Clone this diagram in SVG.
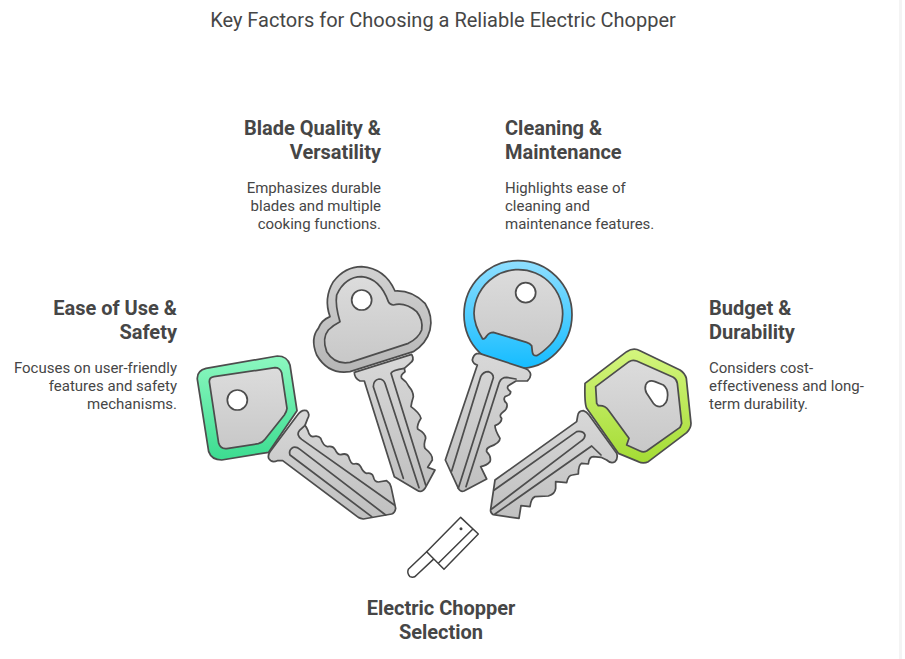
<svg xmlns="http://www.w3.org/2000/svg" width="905" height="659" viewBox="0 0 905 659">
<style>
text{font-family:Roboto,"Liberation Sans",sans-serif;fill:#464646}
.t{font-size:20px}
.h{font-size:20px;font-weight:700}
.d{font-size:15px}
.e{text-anchor:end}
.m{text-anchor:middle}
.s{stroke:#4d4d4d;stroke-width:5.2;stroke-linejoin:round;stroke-linecap:round}
.k{fill:url(#blade)}
.i{fill:url(#inner)}
.g{fill:none}
.o{fill:#fff}
.c{fill:none;stroke:#404040;stroke-width:4.5;stroke-linejoin:round;stroke-linecap:round}
</style>
<defs>
<linearGradient id="blade" x1="0" y1="0" x2="0" y2="1"><stop offset="0" stop-color="#d8d8d8"/><stop offset="1" stop-color="#c0c0c0"/></linearGradient>
<linearGradient id="inner" x1="0" y1="0" x2="0" y2="1"><stop offset="0" stop-color="#dcdcdc"/><stop offset="1" stop-color="#c8c8c8"/></linearGradient>
<linearGradient id="head2" x1="0" y1="0" x2="0" y2="1"><stop offset="0" stop-color="#d2d2d2"/><stop offset="1" stop-color="#b6b6b6"/></linearGradient>
<linearGradient id="green" x1="0" y1="0" x2="0" y2="1"><stop offset="0" stop-color="#8cf8c0"/><stop offset="1" stop-color="#3cdc90"/></linearGradient>
<linearGradient id="blue" x1="0" y1="0" x2="0" y2="1"><stop offset="0" stop-color="#8fdfff"/><stop offset="1" stop-color="#14bcff"/></linearGradient>
<linearGradient id="lime" x1="0" y1="0" x2="0" y2="1"><stop offset="0" stop-color="#d4f57e"/><stop offset="1" stop-color="#a4dc34"/></linearGradient>
</defs>
<rect width="905" height="659" fill="#fff"/>
<rect x="899" y="0" width="3" height="659" fill="#f4f4f4"/>
<text class="t m" x="443" y="27">Key Factors for Choosing a Reliable Electric Chopper</text>

<g id="key-ease" transform="translate(190 340) scale(.33333)">
<path class="s" fill="url(#green)" d="M22 118Q20 92 48 85L262 48Q292 48 300 75L321 212L236 337L95 360Q65 360 56 335Z"/>
<path class="s i" d="M58 125Q58 112 72 110L255 83Q270 83 275 98L291 205Q290 215 283 225L225 298Q218 308 205 311L110 326Q92 328 86 310Z"/>
<circle class="s o" cx="142" cy="180" r="30"/>
<path class="s k" d="M322 226Q335 207 350 212Q362 222 352 238L345 256Q350 262 354 272Q358 288 368 290Q385 285 392 295Q400 318 412 320Q428 316 435 328Q442 344 452 344Q470 338 476 350Q482 372 492 372Q505 368 512 380Q520 398 530 400Q546 398 550 410Q553 426 565 426L590 422Q600 428 603 440L617 505Q615 518 605 522L520 537Q512 535 505 532L278 362L262 362Q245 370 236 355Q233 345 240 335Z"/>
<path class="s g" d="M545 530L300 345Q295 330 310 322Q320 320 330 328L587 525M613 495L335 298Q318 285 328 272L345 256"/>
</g>

<g id="key-blade" transform="translate(305 255) scale(.33333)">
<path class="s" fill="url(#head2)" d="M75 185Q55 130 85 80Q120 35 170 35Q240 40 270 108Q320 105 360 145Q385 185 375 225Q365 265 325 290L135 350Q70 360 35 300Q15 250 40 220Q50 195 75 185Z"/>
<path class="s i" d="M105 200Q90 150 95 120Q120 65 170 65Q225 70 250 140Q255 150 265 150Q300 140 335 170Q355 195 350 225Q340 250 310 265L135 322Q90 330 65 290Q50 250 70 225Q85 210 105 200Z"/>
<circle class="s o" cx="170" cy="135" r="30"/>
<path class="s k" d="M148 352Q148 370 165 378L178 378L268 665L335 705Q350 715 360 700L390 645L368 637L382 615Q385 600 360 580Q355 570 362 550Q362 535 338 522Q335 510 348 490Q345 475 318 455Q320 440 325 425Q325 410 312 395Q305 380 290 370Q285 360 300 350L298 340L315 325Q330 315 320 298Z"/>
<path class="s g" d="M295 670L205 395Q205 375 222 372Q235 372 240 385L342 698M362 690L258 355Q262 345 298 340"/>
</g>

<g id="key-clean" transform="translate(440 255) scale(.33333)">
<circle class="s" fill="url(#blue)" cx="234" cy="179" r="162"/>
<path class="s i" d="M128 252Q102 210 102 175A133 133 0 1 1 330 270Q305 295 290 302Q278 303 277 290L275 272Q270 265 260 262L160 232Q148 232 140 243Q135 252 128 252Z"/>
<circle class="s o" cx="257" cy="113" r="30"/>
<path class="s k" d="M110 296Q100 300 97 315Q100 328 112 330L16 615L55 700Q62 712 72 708L140 672L122 635Q140 632 150 620Q155 605 140 590Q138 580 150 575Q180 565 180 550Q165 525 165 512Q185 505 185 490Q175 480 190 470Q205 460 200 445Q188 435 195 425Q212 420 212 410Q198 400 205 392L228 378L262 378Q276 365 270 352Q265 343 255 340L120 296Z"/>
<path class="s g" d="M35 648L122 365Q130 350 145 350Q160 355 160 368L55 700M78 695L178 382Q184 367 200 367L228 372"/>
</g>

<g id="key-budget" transform="translate(485 340) scale(.33333)">
<path class="s" fill="url(#lime)" d="M300 130L425 35Q445 22 465 32L585 90Q600 100 604 115L618 250Q618 265 605 278L490 365Q475 372 460 365L400 340L305 205Q298 190 300 130Z"/>
<path class="s i" d="M332 140L432 65Q442 58 455 63L565 112Q575 118 577 130L590 250L585 262L485 333Q475 338 465 333L425 315L432 295L370 210Q360 195 340 197L335 190Z"/>
<path class="s o" d="M482 135Q490 118 510 125L535 135Q548 145 548 165Q548 195 525 200Q512 200 505 190L485 160Q478 148 482 135Z"/>
<path class="s k" d="M278 228Q280 212 295 212Q305 215 312 225L395 340Q400 355 390 365Q378 372 365 360L348 352L325 350Q312 350 310 372L290 370Q280 375 280 402L262 405Q250 405 245 428L212 425L212 445Q210 462 190 468L150 470Q138 475 135 500L108 497L102 535L25 524Q15 518 17 508L30 420L275 245Z"/>
<path class="s g" d="M28 450L275 275Q295 272 300 285Q300 295 290 302L20 507M30 522L320 318L348 345"/>
</g>

<g id="chopper" transform="translate(400 510) scale(.33333)">
<path class="c" d="M80 125L25 178Q20 190 30 200Q42 205 50 195L100 148"/>
<path class="c" d="M182 22L235 72L132 178L80 125ZM218 58L115 160"/>
<circle cx="183" cy="56" r="4.5" fill="#404040"/>
</g>

<g id="label-ease">
<text class="h e" x="177" y="315">Ease of Use &amp;</text>
<text class="h e" x="177" y="339">Safety</text>
<text class="d e" x="177" y="373">Focuses on user-friendly</text>
<text class="d e" x="177" y="391">features and safety</text>
<text class="d e" x="177" y="409">mechanisms.</text>
</g>
<g id="label-blade">
<text class="h e" x="381" y="135">Blade Quality &amp;</text>
<text class="h e" x="381" y="159">Versatility</text>
<text class="d e" x="381" y="193">Emphasizes durable</text>
<text class="d e" x="381" y="211">blades and multiple</text>
<text class="d e" x="381" y="229">cooking functions.</text>
</g>
<g id="label-clean">
<text class="h" x="505" y="135">Cleaning &amp;</text>
<text class="h" x="505" y="159">Maintenance</text>
<text class="d" x="505" y="193">Highlights ease of</text>
<text class="d" x="505" y="211">cleaning and</text>
<text class="d" x="505" y="229">maintenance features.</text>
</g>
<g id="label-budget">
<text class="h" x="709" y="315">Budget &amp;</text>
<text class="h" x="709" y="339">Durability</text>
<text class="d" x="709" y="373">Considers cost-</text>
<text class="d" x="709" y="391">effectiveness and long-</text>
<text class="d" x="709" y="409">term durability.</text>
</g>
<g id="label-chopper">
<text class="h m" x="441" y="615">Electric Chopper</text>
<text class="h m" x="441" y="639">Selection</text>
</g>
<g id="connectors"/>
</svg>
